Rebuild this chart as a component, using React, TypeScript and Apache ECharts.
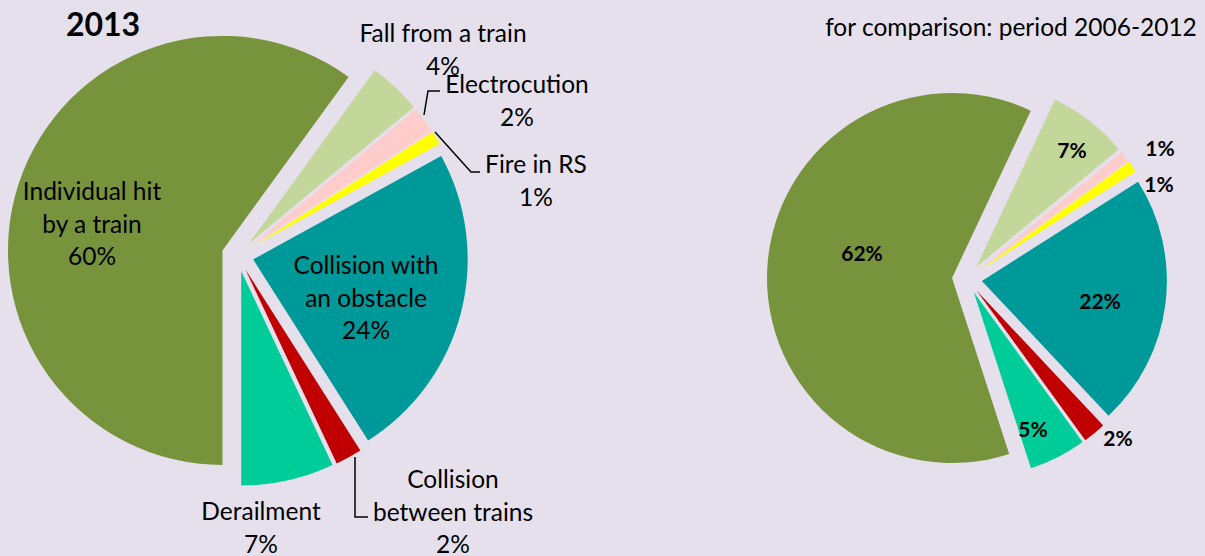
import React, { useEffect, useRef } from "react";
import * as echarts from "echarts";

const categories = [
  "Individual hit by a train",
  "Fall from a train",
  "Electrocution",
  "Fire in RS",
  "Collision with an obstacle",
  "Collision between trains",
  "Derailment",
];
const labelNames2013 = [
  "Individual hit\nby a train",
  "Fall from a train",
  "Electrocution",
  "Fire in RS",
  "Collision with\nan obstacle",
  "Collision\nbetween trains",
  "Derailment",
];
const values2013 = [60, 4, 2, 1, 24, 2, 7];
const values2006to2012 = [62, 7, 1, 1, 22, 2, 5];
const sliceColors = ["#77933C", "#C4D79B", "#FFCCCC", "#FFFF00", "#009999", "#C00000", "#00CC99"];

const title2013 = "2013";
const titleComparison = "for comparison: period 2006-2012";

// label layout (positions only, centre of each text block)
const leftLabelPos: [number, number][] = [
  [92, 223], [443, 49], [517, 100], [536, 180], [366, 297], [453, 511], [261, 527],
];
const leftLeaders: Record<number, [number, number][]> = {
  2: [[424, 115], [428, 91], [440, 91]],
  3: [[435, 132], [471, 172], [480, 172]],
  5: [[355, 457], [355, 517], [368, 517]],
};
const rightLabelPos: [number, number][] = [
  [862, 252], [1072, 149], [1160, 147], [1159, 183], [1100, 300], [1118, 437], [1033, 428],
];

const FONT = "Lato, 'Open Sans', sans-serif";
const BG = "#E6E0EC";

function textEl(text: string, x: number, y: number, size: number, bold: boolean, lineHeight?: number) {
  return {
    type: "text",
    x,
    y,
    z: 100,
    style: {
      text,
      fill: "#000",
      fontFamily: FONT,
      fontSize: size,
      fontWeight: bold ? "bold" : "normal",
      lineHeight: lineHeight ?? Math.round(size * 1.3),
      align: "center",
      verticalAlign: "middle",
      textAlign: "center",
      textVerticalAlign: "middle",
    },
  };
}

export default function App() {
  const ref = useRef<HTMLDivElement>(null);
  useEffect(() => {
    if (!ref.current) return;
    const chart = echarts.init(ref.current, undefined, { renderer: "svg" });
    const mkData = (vals: number[]) =>
      vals.map((v, i) => ({
        name: categories[i],
        value: v,
        selected: true,
        itemStyle: { color: sliceColors[i] },
        select: { itemStyle: { color: sliceColors[i], borderWidth: 0 } },
      }));

    const graphics: any[] = [];
    graphics.push(textEl(title2013, 103, 23, 32, true));
    graphics.push(textEl(titleComparison, 1011, 26, 24.5, false));
    values2013.forEach((v, i) => {
      const [x, y] = leftLabelPos[i];
      graphics.push(textEl(`${labelNames2013[i]}\n${v}%`, x, y, 24.5, false, 32.5));
      if (leftLeaders[i]) {
        graphics.push({
          type: "polyline",
          z: 100,
          shape: { points: leftLeaders[i] },
          style: { stroke: "#000", lineWidth: 1.5, fill: null },
        });
      }
    });
    values2006to2012.forEach((v, i) => {
      const [x, y] = rightLabelPos[i];
      graphics.push(textEl(`${v}%`, x, y, 21, true));
    });

    const pieBase = {
      type: "pie",
      clockwise: true,
      selectedMode: "multiple",
      avoidLabelOverlap: false,
      emphasis: { disabled: true },
      label: { show: false },
      labelLine: { show: false },
    };

    chart.setOption({
      animation: false,
      backgroundColor: BG,
      graphic: { elements: graphics },
      series: [
        {
          ...pieBase,
          center: [237.7, 255.4],
          radius: 214.5,
          startAngle: -90,
          selectedOffset: 16,
          data: mkData(values2013),
        },
        {
          ...pieBase,
          center: [967, 279],
          radius: 185,
          startAngle: -72,
          selectedOffset: 15,
          data: mkData(values2006to2012),
        },
      ],
    });
    return () => chart.dispose();
  }, []);
  return (
    <div
      ref={ref}
      style={{ position: "fixed", left: 0, top: 0, width: 1205, height: 556 }}
    />
  );
}
